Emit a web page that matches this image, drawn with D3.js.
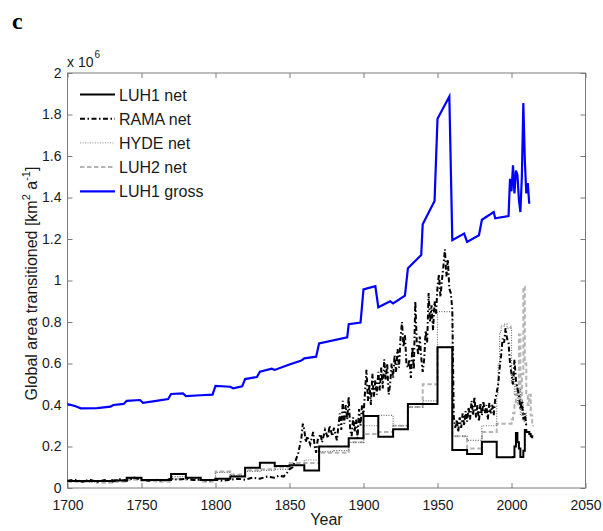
<!DOCTYPE html>
<html><head><meta charset="utf-8">
<script src="https://cdn.jsdelivr.net/npm/d3@7"></script>
<style>
html,body{margin:0;padding:0;background:#fff;}
svg{display:block;font-family:"Liberation Sans",Arial,sans-serif;}
</style></head>
<body><svg id="c" width="603" height="531"></svg>
<script>
// ---------- data ----------
const xTicks = [1700,1750,1800,1850,1900,1950,2000,2050];
const yTicks = [0,0.2,0.4,0.6,0.8,1,1.2,1.4,1.6,1.8,2];
const yTickLabels = ["0","0.2","0.4","0.6","0.8","1","1.2","1.4","1.6","1.8","2"];
const seriesNames = ["LUH1 net","RAMA net","HYDE net","LUH2 net","LUH1 gross"];

// LUH1 gross (x10^6 km2/a)
const grossYears = [1700,1705,1709,1720,1729,1731,1738,1740,1749,1751,1760,1768,1770,1778,1780,1790,1798,1800,1810,1812,1818,1820,1828,1830,1838,1840,1849,1858,1860,1868,1870,1889,1890,1898,1900,1908,1910,1918,1920,1928,1930,1939,1940,1948,1950,1958,1960,1968,1970,1978,1980,1988,1989,1998,1999,2000,2001,2002,2003,2004,2005,2006,2007,2008,2009,2010,2011,2012];
const grossVals  = [0.404,0.395,0.384,0.385,0.392,0.40,0.405,0.42,0.424,0.411,0.42,0.429,0.453,0.456,0.443,0.447,0.45,0.492,0.488,0.48,0.49,0.525,0.535,0.56,0.575,0.569,0.593,0.614,0.625,0.633,0.697,0.726,0.789,0.797,0.957,0.973,0.871,0.90,0.89,0.927,1.059,1.123,1.271,1.383,1.779,1.887,1.194,1.226,1.186,1.218,1.293,1.33,1.30,1.31,1.49,1.43,1.555,1.42,1.53,1.51,1.39,1.33,1.50,1.855,1.58,1.42,1.47,1.37];

// LUH1 net (decadal steps, annual after 2000)
const luh1Years = [1700,1710,1720,1730,1740,1750,1760,1770,1780,1790,1800,1810,1820,1830,1840,1850,1860,1870,1880,1890,1900,1910,1920,1930,1940,1950,1960,1970,1980,1990,2000,2001,2002,2003,2004,2005,2006,2007,2008,2009,2010,2011,2012,2013,2014];
const luh1Vals  = [0.034,0.034,0.034,0.036,0.05,0.038,0.038,0.067,0.05,0.038,0.045,0.055,0.098,0.122,0.106,0.11,0.084,0.2,0.2,0.24,0.347,0.247,0.283,0.405,0.405,0.678,0.183,0.164,0.223,0.148,0.148,0.15,0.2,0.265,0.22,0.19,0.15,0.15,0.18,0.28,0.27,0.27,0.26,0.25,0.24];

// RAMA net (annual, noisy)
const ramaYears = [1700,1705,1710,1715,1720,1725,1730,1735,1740,1745,1750,1755,1760,1765,1770,1775,1780,1785,1790,1795,1800,1805,1810,1815,1820,1825,1830,1835,1840,1843,1846,1848,1850,1852,1854,1856,1858,1859,1860,1861,1862,1864,1866,1867,1868,1869,1871,1872,1874,1876,1877,1879,1880,1882,1884,1885,1886,1887,1888,1889,1890,1891,1892,1893,1894,1895,1896,1897,1898,1899,1900,1901,1902,1903,1904,1905,1906,1907,1908,1909,1910,1911,1912,1913,1914,1915,1916,1917,1918,1919,1920,1921,1922,1923,1924,1925,1926,1927,1928,1929,1930,1931,1932,1933,1934,1935,1936,1937,1938,1939,1940,1941,1942,1943,1944,1945,1946,1947,1948,1949,1950,1951,1952,1953,1954,1955,1956,1957,1958,1959,1960,1961,1962,1963,1964,1965,1966,1967,1968,1969,1970,1971,1972,1973,1974,1975,1976,1977,1978,1979,1980,1981,1982,1983,1984,1985,1986,1987,1988,1989,1990,1991,1992,1993,1994,1995,1996,1997,1998,1999,2000,2001,2002,2003,2004,2005,2006,2007,2008,2009,2010];
const ramaVals  = [0.035,0.04,0.03,0.04,0.03,0.038,0.03,0.042,0.035,0.05,0.04,0.035,0.04,0.035,0.045,0.04,0.045,0.038,0.04,0.035,0.04,0.035,0.04,0.045,0.04,0.05,0.045,0.055,0.05,0.06,0.055,0.07,0.09,0.10,0.13,0.17,0.24,0.31,0.28,0.22,0.25,0.21,0.27,0.20,0.17,0.23,0.26,0.22,0.28,0.24,0.30,0.25,0.29,0.23,0.36,0.28,0.42,0.31,0.40,0.33,0.44,0.28,0.25,0.34,0.27,0.33,0.24,0.38,0.30,0.40,0.35,0.46,0.57,0.42,0.50,0.40,0.55,0.44,0.52,0.45,0.56,0.47,0.58,0.48,0.62,0.52,0.60,0.45,0.50,0.60,0.53,0.64,0.56,0.67,0.58,0.72,0.80,0.68,0.74,0.60,0.58,0.62,0.53,0.68,0.57,0.90,0.70,0.64,0.73,0.63,0.56,0.62,0.76,0.70,0.94,0.80,0.88,0.76,0.90,0.84,0.97,1.03,0.92,1.00,1.07,1.15,1.02,1.10,0.96,0.94,0.86,0.34,0.29,0.33,0.27,0.34,0.29,0.36,0.30,0.37,0.32,0.39,0.33,0.42,0.35,0.44,0.34,0.40,0.32,0.41,0.35,0.42,0.36,0.40,0.33,0.41,0.36,0.40,0.35,0.43,0.46,0.50,0.58,0.64,0.72,0.70,0.77,0.72,0.70,0.60,0.55,0.50,0.62,0.52,0.48,0.45,0.38,0.42,0.33,0.36,0.30];

// HYDE net
const hydeYears = [1700,1710,1720,1730,1740,1750,1760,1770,1780,1790,1800,1810,1820,1830,1840,1850,1860,1870,1880,1890,1900,1910,1920,1930,1940,1950,1960,1970,1980,1990,1991,1992,1993,1995,1997,1999,2000,2001,2002,2003,2004,2005,2006,2007,2008,2009,2010];
const hydeVals  = [0.035,0.03,0.035,0.04,0.045,0.035,0.04,0.055,0.045,0.04,0.075,0.06,0.08,0.085,0.09,0.11,0.135,0.175,0.18,0.22,0.30,0.35,0.30,0.39,0.42,0.85,0.25,0.23,0.30,0.45,0.60,0.75,0.78,0.79,0.77,0.78,0.50,0.55,0.45,0.50,0.40,0.48,0.35,0.42,0.32,0.36,0.30];

// LUH2 net
const luh2Years = [1700,1710,1720,1730,1740,1750,1760,1770,1780,1790,1800,1810,1820,1830,1840,1850,1860,1870,1880,1890,1900,1910,1920,1930,1940,1950,1960,1970,1980,1990,2000,2001,2002,2003,2004,2005,2006,2007,2008,2009,2010,2011,2012,2013,2014,2015];
const luh2Vals  = [0.03,0.03,0.025,0.03,0.04,0.035,0.03,0.045,0.04,0.03,0.08,0.065,0.085,0.09,0.10,0.12,0.12,0.17,0.17,0.22,0.26,0.27,0.30,0.39,0.50,0.68,0.25,0.19,0.27,0.31,0.33,0.36,0.40,0.45,0.50,0.74,0.40,0.55,0.97,0.60,0.45,0.40,0.45,0.35,0.30,0.30];

// ---------- drawing ----------
const svg = d3.select("#c");
const m = {l:67.5, r:585.5, t:73, b:488};
const x = d3.scaleLinear().domain([1700,2050]).range([m.l,m.r]);
const y = d3.scaleLinear().domain([0,2]).range([m.b,m.t]);
const axisCol = "#7a7a7a", txtCol = "#1a1a1a";

// frame
svg.append("rect").attr("x",m.l).attr("y",m.t).attr("width",m.r-m.l).attr("height",m.b-m.t)
  .attr("fill","none").attr("stroke",axisCol).attr("stroke-width",1);

// ticks (inward, on all four sides)
const tl = 5;
const gx = svg.append("g").attr("transform",`translate(0,${m.b})`)
  .call(d3.axisBottom(x).tickValues(xTicks).tickFormat(d3.format("d")).tickSize(-tl).tickPadding(12));
const gxt = svg.append("g").attr("transform",`translate(0,${m.t})`)
  .call(d3.axisTop(x).tickValues(xTicks).tickFormat("").tickSize(-tl));
const gy = svg.append("g").attr("transform",`translate(${m.l},0)`)
  .call(d3.axisLeft(y).tickValues(yTicks).tickFormat((d,i)=>yTickLabels[i]).tickSize(-tl).tickPadding(6));
const gyr = svg.append("g").attr("transform",`translate(${m.r},0)`)
  .call(d3.axisRight(y).tickValues(yTicks).tickFormat("").tickSize(-tl));
[gx,gxt,gy,gyr].forEach(g=>{
  g.select(".domain").remove();
  g.selectAll(".tick line").attr("stroke",axisCol);
  g.selectAll(".tick text").attr("fill",txtCol).style("font-size","14px").style("font-family","'Liberation Sans',Arial,sans-serif");
});
gy.selectAll(".tick text").attr("dy","0.3em");

// exponent label
const ex = svg.append("text").attr("x",67).attr("y",67).attr("fill",txtCol).style("font-size","14px");
ex.append("tspan").text("x 10");
ex.append("tspan").attr("dy",-9).attr("dx",1).style("font-size","10px").text("6");

// axis labels
svg.append("text").attr("x",(m.l+m.r)/2).attr("y",525).attr("text-anchor","middle")
  .attr("fill",txtCol).style("font-size","16px").text("Year");
const yl = svg.append("text").attr("transform",`translate(37,${(m.t+m.b)/2+3}) rotate(-90)`)
  .attr("text-anchor","middle").attr("fill",txtCol).style("font-size","16px");
yl.append("tspan").text("Global area transitioned [km");
yl.append("tspan").attr("dy",-7).style("font-size","11px").text("2");
yl.append("tspan").attr("dy",7).text(" a");
yl.append("tspan").attr("dy",-7).style("font-size","11px").text("-1");
yl.append("tspan").attr("dy",7).text("]");

// panel letter
svg.append("text").attr("x",12).attr("y",29).attr("fill","#000")
  .style("font-family","'Liberation Serif','Times New Roman',serif").style("font-size","24px").style("font-weight","bold").text("c");

// series
const zip = (ys,vs)=>ys.map((yr,i)=>({yr,v:vs[i]}));
const styles = {
  "LUH1 net":   {color:"#000000", w:2,   dash:null,        curve:d3.curveStepAfter, data:zip(luh1Years,luh1Vals)},
  "RAMA net":   {color:"#000000", w:2,   dash:"5,2.5,1.5,2.5", curve:d3.curveLinear, data:zip(ramaYears,ramaVals)},
  "HYDE net":   {color:"#6e6e6e", w:1.2, dash:"1,1.5",     curve:d3.curveStepAfter, data:zip(hydeYears,hydeVals)},
  "LUH2 net":   {color:"#b4b4b4", w:2,   dash:"4.5,2.5",   curve:d3.curveStepAfter, data:zip(luh2Years,luh2Vals)},
  "LUH1 gross": {color:"#0000ff", w:2.2, dash:null,        curve:d3.curveLinear, data:zip(grossYears,grossVals)}
};
const drawOrder = ["LUH2 net","HYDE net","LUH1 net","RAMA net","LUH1 gross"];
drawOrder.forEach(n=>{
  const s = styles[n];
  const line = d3.line().x(d=>x(d.yr)).y(d=>y(d.v)).curve(s.curve);
  svg.append("path").datum(s.data).attr("d",line).attr("fill","none")
    .attr("stroke",s.color).attr("stroke-width",s.w).attr("stroke-dasharray",s.dash)
    .attr("stroke-linejoin","miter");
});

// legend
const lg = svg.append("g");
seriesNames.forEach((n,i)=>{
  const s = styles[n];
  const yy = 94.5 + i*24.2;
  lg.append("line").attr("x1",80).attr("x2",115).attr("y1",yy).attr("y2",yy)
    .attr("stroke",n==="HYDE net"?"#8a8a8a":s.color).attr("stroke-width",n==="HYDE net"?1:s.w).attr("stroke-dasharray",s.dash);
  lg.append("text").attr("x",119).attr("y",yy+6).attr("fill",txtCol).style("font-size","16px").text(n);
});
</script></body></html>
